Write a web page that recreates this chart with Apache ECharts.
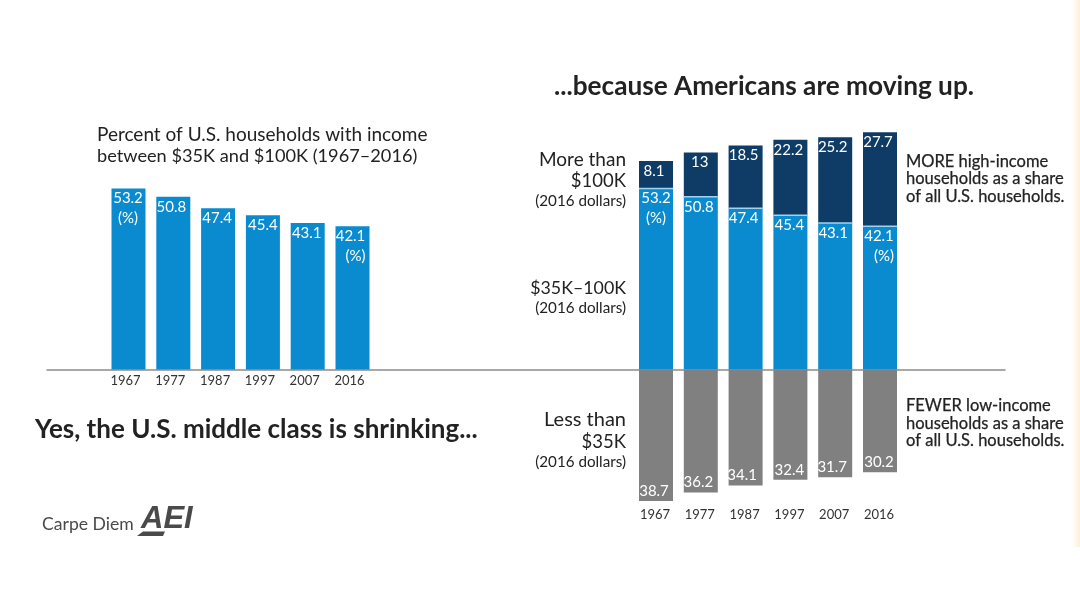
<!DOCTYPE html>
<html>
<head>
<meta charset="utf-8">
<style>html,body{margin:0;padding:0;background:#fff}#c{width:1080px;height:606px}</style>
<script src="https://cdn.jsdelivr.net/npm/echarts@6/dist/echarts.min.js"></script>
</head>
<body>
<div id="c"></div>
<script>
var years = ['1967','1977','1987','1997','2007','2016'];
var middleShare = [53.2,50.8,47.4,45.4,43.1,42.1];
var highShare = [8.1,13,18.5,22.2,25.2,27.7];
var lowShare = [38.7,36.2,34.1,32.4,31.7,30.2];
var lowNegative = lowShare.map(function(v){return -v;});

var FONT = 'Lato';
var leftDx = [-0.5,-2,-1,0,-1,-2];
var midDx = [0,-2,-2,-1,-2,-1];
var highDx = [-2,-1,-2,-2,-2.5,-2];
var lowDx = [-2,-2.5,-3.5,-1,-3,-1];

function midData(dx){
  return middleShare.map(function(v,i){
    var f = '{v|'+v+'}';
    if(i===0) f += '\n{p|(%)}';
    if(i===5) f += '\n{q|(%)}';
    return {value:v,label:{offset:[dx[i],0],formatter:f}};
  });
}
var rich = {
  v:{color:'#fff',fontFamily:FONT,fontSize:15,lineHeight:20},
  p:{color:'#fff',fontFamily:FONT,fontSize:15,lineHeight:20},
  q:{color:'#fff',fontFamily:FONT,fontSize:15,lineHeight:20,padding:[0,0,0,10]}
};
var barLabel = {show:true,position:'insideTop',distance:0,color:'#fff',fontFamily:FONT,fontSize:15,lineHeight:20,rich:rich};
var axisTop = 124.7, axisHeight = 380.8, upperHeight = 244.8;

function text(x,y,s,size,align,stroke,color){
  var st = {text:s,fontFamily:FONT,fontSize:size,fill:color||'#222',textAlign:align||'left',textVerticalAlign:'middle'};
  if(stroke){st.stroke = color||'#222'; st.lineWidth = stroke;}
  return {type:'text',x:x,y:y,style:st};
}
var option = {
  backgroundColor:'#fff',
  animation:false,
  title:[
    {text:'...because Americans are moving up.',left:549,top:69,textStyle:{fontFamily:FONT,fontSize:26.2,fontWeight:'bold',color:'#222'}},
    {text:'Yes, the U.S. middle class is shrinking...',left:30,top:412,textStyle:{fontFamily:FONT,fontSize:26,fontWeight:'bold',color:'#222'}}
  ],
  grid:[
    {left:106.1,width:268.8,top:axisTop,height:upperHeight},
    {left:633.6,width:268.8,top:axisTop,height:axisHeight},
    {left:47,width:958,top:axisTop,height:axisHeight}
  ],
  xAxis:[
    {type:'category',gridIndex:0,data:years,axisLine:{show:false},axisTick:{show:false},
     axisLabel:{color:'#333',fontFamily:FONT,fontSize:13,margin:5,padding:[0,6,0,0]}},
    {type:'category',gridIndex:1,data:years,axisLine:{show:false,onZero:false},axisTick:{show:false},
     axisLabel:{color:'#333',fontFamily:FONT,fontSize:13,margin:3,padding:[0,2,0,0]}},
    {type:'category',gridIndex:2,data:[''],axisLine:{show:true,onZero:true,lineStyle:{color:'#8c8c8c',width:1.5}},axisTick:{show:false},axisLabel:{show:false}}
  ],
  yAxis:[
    {type:'value',gridIndex:0,min:0,max:72,show:false,splitLine:{show:false}},
    {type:'value',gridIndex:1,min:-40,max:72,show:false,splitLine:{show:false}},
    {type:'value',gridIndex:2,min:-40,max:72,show:false,splitLine:{show:false}}
  ],
  series:[
    {type:'bar',name:'$35K–100K (left)',xAxisIndex:0,yAxisIndex:0,barWidth:34,data:midData(leftDx),itemStyle:{color:'#0a8bcf'},label:barLabel},
    {type:'bar',name:'$35K–100K',stack:'s',xAxisIndex:1,yAxisIndex:1,barWidth:34,data:midData(midDx),itemStyle:{color:'#0a8bcf'},label:barLabel},
    {type:'bar',name:'More than $100K',stack:'s',xAxisIndex:1,yAxisIndex:1,barWidth:34,
     data:highShare.map(function(v,i){return {value:v,label:{offset:[highDx[i],0]}};}),itemStyle:{color:'#0e3c66'},label:barLabel},
    {type:'bar',name:'Less than $35K',stack:'s',xAxisIndex:1,yAxisIndex:1,barWidth:34,
     data:lowNegative.map(function(v,i){return {value:v,label:{offset:[lowDx[i],0]}};}),itemStyle:{color:'#808080'},
     label:Object.assign({},barLabel,{position:'insideBottom',formatter:function(p){return Math.abs(p.value);}})},
    {type:'custom',name:'separator',xAxisIndex:1,yAxisIndex:1,z:3,silent:true,
     data:middleShare.map(function(v,i){return [i,v];}),
     renderItem:function(params,api){
       var p = api.coord([api.value(0),api.value(1)]);
       return {type:'rect',shape:{x:p[0]-17,y:p[1]-0.75,width:34,height:1.5},style:{fill:'#9fd3ee'}};
     }}
  ],
  graphic:[
    text(97,135,'Percent of U.S. households with income',19),
    text(97,156.5,'between $35K and $100K (1967–2016)',18.2),
    text(626,159.5,'More than',19,'right'),
    text(626,181.5,'$100K',18.5,'right'),
    text(626,201,'(2016 dollars)',15.2,'right'),
    text(626,288.5,'$35K–100K',17.8,'right'),
    text(626,308,'(2016 dollars)',15.2,'right'),
    text(626,419.5,'Less than',20,'right'),
    text(626,442.5,'$35K',18.5,'right'),
    text(626,462,'(2016 dollars)',15.2,'right'),
    text(906,161.5,'MORE high-income',16.5,'left',0.25),
    text(906,179,'households as a share',16.5,'left',0.25),
    text(906,196.5,'of all U.S. households.',16.5,'left',0.25),
    text(906,406,'FEWER low-income',16.5,'left',0.25),
    text(906,424,'households as a share',16.5,'left',0.25),
    text(906,441,'of all U.S. households.',16.5,'left',0.25),
    text(42,524.5,'Carpe Diem',17.6,'left',0,'#4a4a4a'),
    {type:'text',x:141,y:519,style:{text:'AEI',fontFamily:'Liberation Sans',fontSize:31,fontWeight:'bold',fontStyle:'italic',fill:'#4a4a4a',textAlign:'left',textVerticalAlign:'middle'}},
    {type:'polygon',shape:{points:[[137,536],[143,531.5],[165,531.5],[163,536]]},style:{fill:'#4a4a4a'}},
    {type:'rect',shape:{x:1072,y:0,width:8,height:547},style:{fill:{type:'linear',x:0,y:0,x2:1,y2:0,colorStops:[{offset:0,color:'#ffffff'},{offset:1,color:'#fdf0d8'}]}}}
  ]
};
echarts.init(document.getElementById('c'),null,{renderer:'canvas'}).setOption(option);
</script>
</body>
</html>
